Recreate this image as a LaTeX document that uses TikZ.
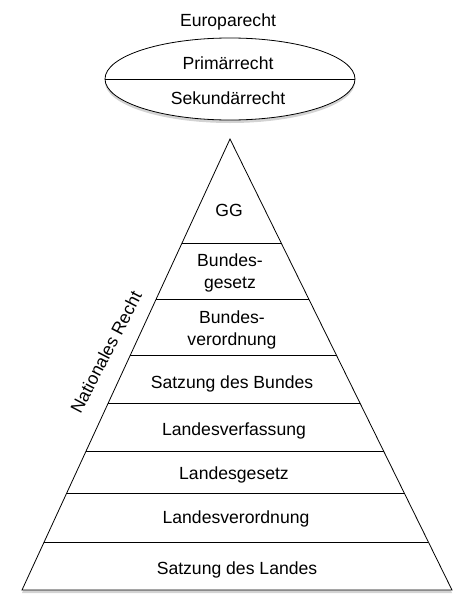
\documentclass[tikz,border=0pt]{standalone}
\usepackage{fontspec}
\setmainfont{Liberation Sans}
\usetikzlibrary{positioning,calc,shapes.geometric,shadows}

\begin{document}
\begin{tikzpicture}[
    x=1pt, y=-1pt,
    label/.style={%
      font=\fontsize{17.6}{21.5}\selectfont,
      align=center,
      inner sep=0pt,
    },
    rule/.style={%
      draw,
      line width=0.8pt,
    },
    shade/.style={%
      drop shadow={opacity=0.35, shadow xshift=0pt, shadow yshift=-3pt},
    },
  ]
    \useasboundingbox (0,0) rectangle (474,616);

    % Europarecht
    \node [label] (eutitle) at (228,22) {Europarecht};
    \node [rule, shade, ellipse, fill=white, minimum width=250pt,
           minimum height=82pt, inner sep=0pt] (eu) at (230,79) {};
    \draw [rule] (eu.west) -- (eu.east);
    \node [label] (prim) at (228,63) {Primärrecht};
    \node [label] (sek) at (228,98) {Sekundärrecht};

    % Pyramide
    \coordinate (top) at (230,139);
    \coordinate (bl) at (22,590);
    \coordinate (br) at (452,590);
    \draw [rule, shade, fill=white] (top) -- (bl) -- (br) -- cycle;
    \foreach \yy in {243,299,355,403,451,493,542}
      \draw [rule] ($(top)!{(\yy-139)/451}!(bl)$) -- ($(top)!{(\yy-139)/451}!(br)$);

    \node [label] (gg) at (229,210) {GG};
    \node [label] (bg) at (230,273) {Bundes-\\gesetz};
    \node [label] (bv) at (232,330) {Bundes-\\verordnung};
    \node [label] (sb) at (232,384) {Satzung des Bundes};
    \node [label] (lv) at (234,431) {Landesverfassung};
    \node [label] (lg) at (234,475) {Landesgesetz};
    \node [label] (lvo) at (236,519) {Landesverordnung};
    \node [label] (sl) at (237,570) {Satzung des Landes};

    \node [label, rotate=62.5] (nat) at (106,352) {Nationales Recht};

\end{tikzpicture}
\end{document}
